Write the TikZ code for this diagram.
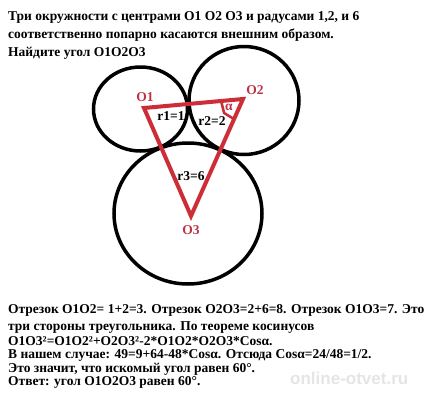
\documentclass[tikz,border=0pt]{standalone}
\usepackage{fontspec}
\setmainfont{Liberation Serif}
\newfontfamily\wmfont{Liberation Sans}
\usetikzlibrary{calc,positioning}
\definecolor{lineRed}{RGB}{205,45,55}
\definecolor{labelRed}{RGB}{190,50,70}

\begin{document}
\begin{tikzpicture}[x=1pt, y=-1pt, every node/.style={font=\fontsize{13.5}{18}\selectfont\bfseries, inner sep=0pt}]
    % Background
    \useasboundingbox (0,0) rectangle (440,400);
    \fill[white] (0,0) rectangle (440,400);
    % Problem text
    \node[anchor=base west] (q1) at (8,20) {Три окружности с центрами O1 O2 O3 и радусами 1,2, и 6};
    \node[anchor=base west] (q2) at (8,38) {соответственно попарно касаются внешним образом.};
    \node[anchor=base west] (q3) at (8,56) {Найдите угол O1O2O3};
    % Circles
    \draw[line width=3.5pt] (140.5,109) ellipse (47 and 42);
    \draw[line width=3.5pt] (244,100.5) ellipse (55 and 54);
    \draw[line width=3.5pt] (188,213.5) ellipse (74 and 70.5);
    % Centres
    \coordinate (O1) at (144,108);
    \coordinate (O2) at (243,99);
    \coordinate (O3) at (191,216);
    % Triangle
    \draw[lineRed, line width=4pt, line join=miter] (O1) -- (O2) -- (O3) -- cycle;
    % Angle mark
    \draw[lineRed, line width=2.5pt] ($(O2)!22pt!(O1)$) -- ++(3,12) -- ($(O2)!22pt!(O3)$);
    \node[labelRed] (alpha) at (229,107) {α};
    % Labels
    \node[labelRed] (l1) at (145,97) {O1};
    \node[labelRed] (l2) at (255,90) {O2};
    \node[labelRed] (l3) at (191,230) {O3};
    \node (r1) at (171,116) {r1=1};
    \node (r2) at (212,121) {r2=2};
    \node (r3) at (191,176) {r3=6};
    % Solution text
    \node[anchor=base west] (s1) at (8,313) {Отрезок O1O2= 1+2=3. Отрезок O2O3=2+6=8. Отрезок O1O3=7. Это};
    \node[anchor=base west] (s2) at (8,330) {три стороны треугольника. По теореме косинусов};
    \node[anchor=base west] (s3) at (8,345) {O1O3²=O1O2²+O2O3²-2*O1O2*O2O3*Cosα.};
    \node[anchor=base west] (s4) at (8,358) {В нашем случае: 49=9+64-48*Cosα. Отсюда Cosα=24/48=1/2.};
    \node[anchor=base west] (s5) at (8,372) {Это значит, что искомый угол равен 60°.};
    \node[anchor=base west] (s6) at (8,385) {Ответ: угол O1O2O3 равен 60°.};
    % Watermark
    \node[anchor=base west, text=gray!20, font=\wmfont\fontsize{17}{17}\selectfont\bfseries] (wm) at (290,384) {online-otvet.ru};
\end{tikzpicture}
\end{document}
